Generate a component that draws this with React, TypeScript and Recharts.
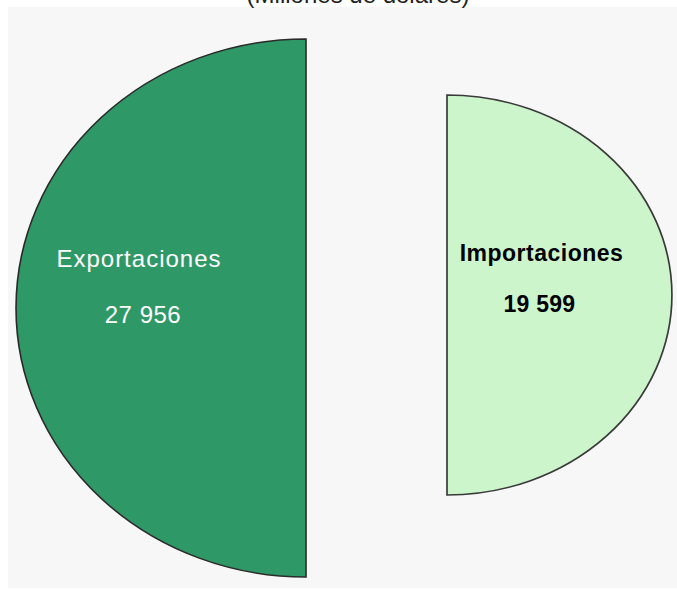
import React from "react";
import { PieChart, Pie, Sector } from "recharts";

const categories = ["Exportaciones", "Importaciones"];
const values = [27956, 19599];
const title = "(Millones de dólares)";

const fmt = (v: number) => String(v).replace(/\B(?=(\d{3})+(?!\d))/g, " ");

const exportData = [{ name: categories[0], value: values[0] }];
const importData = [{ name: categories[1], value: values[1] }];

const FONT = "'Liberation Sans', Arial, sans-serif";
const RAD = Math.PI / 180;

const makeShape = (sx: number) => (props: any) => {
  const { cx, cy } = props;
  return (
    <g transform={`translate(${cx},${cy}) scale(${sx},1) translate(${-cx},${-cy})`}>
      <Sector {...props} />
    </g>
  );
};

const makeLabel =
  (
    sx: number,
    dist: number,
    color: string,
    weight: string,
    size: number,
    spacing: number,
    dyName: number,
    dyVal: number,
    dxVal: number
  ) =>
  (props: any) => {
    const { cx, cy, midAngle, outerRadius, name, value } = props;
    const x = cx + Math.cos(-midAngle * RAD) * outerRadius * sx * dist;
    return (
      <g>
        <text
          x={x}
          y={cy + dyName}
          textAnchor="middle"
          fill={color}
          fontSize={size}
          fontWeight={weight}
          fontFamily={FONT}
          letterSpacing={spacing}
        >
          {name}
        </text>
        <text
          x={x + dxVal}
          y={cy + dyVal}
          textAnchor="middle"
          fill={color}
          fontSize={size}
          fontWeight={weight}
          fontFamily={FONT}
          letterSpacing={spacing * 0.5}
        >
          {fmt(value)}
        </text>
      </g>
    );
  };

export default function App() {
  return (
    <div style={{ position: "absolute", left: 0, top: 0, width: 677, height: 589, background: "#ffffff", overflow: "hidden" }}>
      <div style={{ position: "absolute", left: 8, top: 7, width: 700, height: 581, background: "#f7f7f7" }} />
      <svg width={677} height={20} style={{ position: "absolute", left: 0, top: 0 }}>
        <text x={358} y={3} textAnchor="middle" fontSize={24} fontFamily={FONT} fill="#222">
          {title}
        </text>
      </svg>
      <div style={{ position: "absolute", left: 0, top: 0 }}>
        <PieChart width={677} height={589} margin={{ top: 0, right: 0, bottom: 0, left: 0 }}>
          <Pie
            data={exportData}
            dataKey="value"
            nameKey="name"
            cx={306}
            cy={308}
            outerRadius={269}
            startAngle={90}
            endAngle={270}
            fill="#2f9867"
            stroke="#2a2a2a"
            strokeWidth={1.5}
            isAnimationActive={false}
            shape={makeShape(1.078)}
            labelLine={false}
            label={makeLabel(1.078, 0.576, "#ffffff", "normal", 24, 1, -41, 15, 4)}
          />
          <Pie
            data={importData}
            dataKey="value"
            nameKey="name"
            cx={447}
            cy={295}
            outerRadius={200}
            startAngle={90}
            endAngle={-90}
            fill="#cdf5cb"
            stroke="#3a3a3a"
            strokeWidth={1.5}
            isAnimationActive={false}
            shape={makeShape(1.125)}
            labelLine={false}
            label={makeLabel(1.125, 0.42, "#000000", "bold", 23, 0.5, -34, 17, -2)}
          />
        </PieChart>
      </div>
    </div>
  );
}
